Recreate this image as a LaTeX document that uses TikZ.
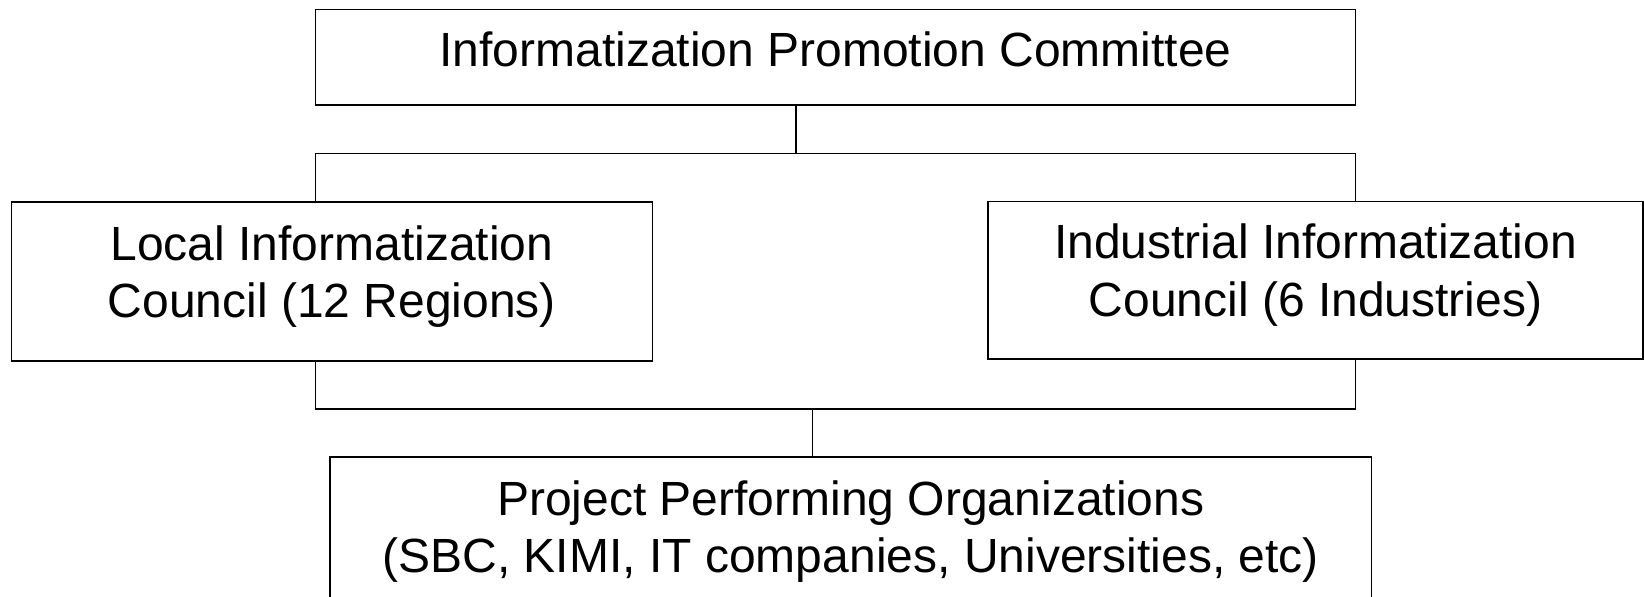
\documentclass[tikz,border=0pt]{standalone}
\usepackage{fontspec}
\setmainfont{Liberation Sans}
\tikzset{
  orgbox/.style={draw, line width=0.8pt, outer sep=0pt, align=center,
    font=\fontsize{24}{28.8}\selectfont, text depth=10pt},
  link/.style={line width=0.8pt}
}
\begin{document}
\begin{tikzpicture}[x=0.5pt,y=-0.5pt]
    \useasboundingbox (0,0) rectangle (1644,597);
    \clip (0,0) rectangle (1644,597);

    % Boxes
    \node[orgbox, text depth=8pt, minimum width=520pt, minimum height=47.8pt] (committee) at (835.6,57.2)
        {Informatization Promotion Committee};
    \node[orgbox, minimum width=320.5pt, minimum height=79.5pt] (local) at (332,281.5)
        {Local Informatization\\Council (12 Regions)};
    \node[orgbox, minimum width=327.5pt, minimum height=78.8pt] (industrial) at (1315.5,280.3)
        {Industrial Informatization\\Council (6 Industries)};
    \node[orgbox, minimum width=520.7pt, minimum height=79.5pt] (projects) at (850.7,536.5)
        {Project Performing Organizations\\(SBC, KIMI, IT companies, Universities, etc)};

    % Bus lines
    \coordinate (upbus) at (796,153.5);
    \coordinate (lowbus) at (812.3,409);

    % Upper connectors
    \draw[link] (committee.south -| upbus) -- (upbus);
    \draw[link] (local.north -| committee.west) -- (committee.west |- upbus)
        -- (committee.east |- upbus) -- (industrial.north -| committee.east);

    % Lower connectors
    \draw[link] (local.south -| committee.west) -- (committee.west |- lowbus)
        -- (committee.east |- lowbus) -- (industrial.south -| committee.east);
    \draw[link] (lowbus) -- (lowbus |- projects.north);
\end{tikzpicture}
\end{document}
